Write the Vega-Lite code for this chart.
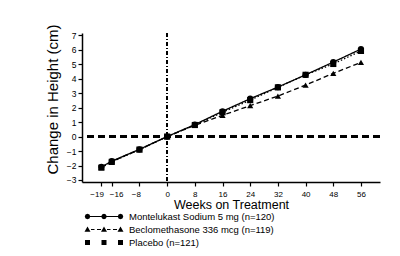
{
  "$schema": "https://vega.github.io/schema/vega-lite/v6.json",
  "width": 298,
  "height": 149,
  "autosize": "none",
  "padding": {"left": 82, "top": 33, "right": 20, "bottom": 74},
  "background": "white",
  "config": {
    "view": {"stroke": null},
    "font": "Liberation Sans",
    "axis": {
      "grid": false,
      "domainColor": "black",
      "domainWidth": 1.5,
      "tickColor": "black",
      "tickWidth": 1.2,
      "tickSize": 4,
      "labelColor": "black",
      "labelFont": "Liberation Sans",
      "labelFontSize": 8.5,
      "labelOverlap": false,
      "titleColor": "black",
      "titleFont": "Liberation Sans",
      "titleFontWeight": "normal"
    }
  },
  "data": {
    "values": [
      {"week": -19, "series": "Montelukast Sodium 5 mg (n=120)", "change": -2.1},
      {"week": -16, "series": "Montelukast Sodium 5 mg (n=120)", "change": -1.7},
      {"week": -8, "series": "Montelukast Sodium 5 mg (n=120)", "change": -0.88},
      {"week": 0, "series": "Montelukast Sodium 5 mg (n=120)", "change": 0},
      {"week": 8, "series": "Montelukast Sodium 5 mg (n=120)", "change": 0.83},
      {"week": 16, "series": "Montelukast Sodium 5 mg (n=120)", "change": 1.75},
      {"week": 24, "series": "Montelukast Sodium 5 mg (n=120)", "change": 2.62},
      {"week": 32, "series": "Montelukast Sodium 5 mg (n=120)", "change": 3.42},
      {"week": 40, "series": "Montelukast Sodium 5 mg (n=120)", "change": 4.27},
      {"week": 48, "series": "Montelukast Sodium 5 mg (n=120)", "change": 5.15},
      {"week": 56, "series": "Montelukast Sodium 5 mg (n=120)", "change": 6.05},
      {"week": -19, "series": "Beclomethasone 336 mcg (n=119)", "change": -2.12},
      {"week": -16, "series": "Beclomethasone 336 mcg (n=119)", "change": -1.72},
      {"week": -8, "series": "Beclomethasone 336 mcg (n=119)", "change": -0.9},
      {"week": 0, "series": "Beclomethasone 336 mcg (n=119)", "change": 0},
      {"week": 8, "series": "Beclomethasone 336 mcg (n=119)", "change": 0.78},
      {"week": 16, "series": "Beclomethasone 336 mcg (n=119)", "change": 1.47},
      {"week": 24, "series": "Beclomethasone 336 mcg (n=119)", "change": 2.14},
      {"week": 32, "series": "Beclomethasone 336 mcg (n=119)", "change": 2.8},
      {"week": 40, "series": "Beclomethasone 336 mcg (n=119)", "change": 3.56},
      {"week": 48, "series": "Beclomethasone 336 mcg (n=119)", "change": 4.37},
      {"week": 56, "series": "Beclomethasone 336 mcg (n=119)", "change": 5.13},
      {"week": -19, "series": "Placebo (n=121)", "change": -2.15},
      {"week": -16, "series": "Placebo (n=121)", "change": -1.75},
      {"week": -8, "series": "Placebo (n=121)", "change": -0.9},
      {"week": 0, "series": "Placebo (n=121)", "change": 0},
      {"week": 8, "series": "Placebo (n=121)", "change": 0.8},
      {"week": 16, "series": "Placebo (n=121)", "change": 1.68},
      {"week": 24, "series": "Placebo (n=121)", "change": 2.52},
      {"week": 32, "series": "Placebo (n=121)", "change": 3.4},
      {"week": 40, "series": "Placebo (n=121)", "change": 4.27},
      {"week": 48, "series": "Placebo (n=121)", "change": 5.02},
      {"week": 56, "series": "Placebo (n=121)", "change": 5.92}
    ]
  },
  "encoding": {
    "x": {
      "field": "week",
      "type": "quantitative",
      "scale": {"domain": [-24.6, 61.5], "nice": false, "zero": false},
      "axis": {
        "values": [-19, -16, -8, 0, 8, 16, 24, 32, 40, 48, 56],
        "title": "Weeks on Treatment",
        "titleFontSize": 12.5,
        "titlePadding": 0,
        "labelPadding": 4,
        "labelFontSize": 8,
        "labelAlign": {
          "condition": [
            {"test": "datum.value === -19 || datum.value === -8", "value": "right"},
            {"test": "datum.value === -16", "value": "left"}
          ],
          "value": "center"
        },
        "labelOffset": {
          "condition": [
            {"test": "datum.value === -19", "value": 2},
            {"test": "datum.value === -16", "value": -2.5},
            {"test": "datum.value === -8", "value": 1}
          ],
          "value": 0
        }
      }
    },
    "y": {
      "field": "change",
      "type": "quantitative",
      "scale": {"domain": [-3.14, 7.16], "nice": false, "zero": false},
      "axis": {
        "values": [-3, -2, -1, 0, 1, 2, 3, 4, 5, 6, 7],
        "title": "Change in Height (cm)",
        "titleFontSize": 15,
        "titlePadding": 6,
        "titleY": 66,
        "labelPadding": 2
      }
    }
  },
  "layer": [
    {
      "mark": {"type": "rule", "color": "black", "strokeWidth": 2, "strokeDash": [7, 4]},
      "encoding": {"y": {"datum": 0}, "x": {}}
    },
    {
      "mark": {"type": "rule", "color": "black", "strokeWidth": 1.3, "strokeDash": [4, 2, 1, 2]},
      "encoding": {"x": {"datum": 0}, "y": {}}
    },
    {
      "mark": {"type": "line", "color": "black", "strokeWidth": 1.3},
      "encoding": {
        "detail": {"field": "series"},
        "strokeDash": {
          "field": "series",
          "scale": {
            "domain": ["Montelukast Sodium 5 mg (n=120)", "Beclomethasone 336 mcg (n=119)", "Placebo (n=121)"],
            "range": [[1, 0], [5, 3], [1.5, 2]]
          },
          "legend": null
        }
      }
    },
    {
      "mark": {"type": "point", "filled": true, "color": "black", "opacity": 1},
      "encoding": {
        "shape": {
          "field": "series",
          "scale": {
            "domain": ["Montelukast Sodium 5 mg (n=120)", "Beclomethasone 336 mcg (n=119)", "Placebo (n=121)"],
            "range": ["circle", "triangle-up", "square"]
          },
          "legend": null
        },
        "size": {"value": 38}
      }
    },
    {
      "transform": [{"filter": "datum.week > 1000"}],
      "mark": {"type": "point", "filled": true, "color": "black"},
      "encoding": {
        "shape": {
          "field": "series",
          "scale": {
            "domain": ["Montelukast Sodium 5 mg (n=120)", "Beclomethasone 336 mcg (n=119)", "Placebo (n=121)"],
            "range": [
              "M-3.7,-0.08L3.7,-0.08L3.7,0.08L-3.7,0.08ZM-2.75,0L-2.91,0.39L-3.3,0.55L-3.69,0.39L-3.85,0L-3.69,-0.39L-3.3,-0.55L-2.91,-0.39ZM0.55,0L0.39,0.39L0,0.55L-0.39,0.39L-0.55,0L-0.39,-0.39L0,-0.55L0.39,-0.39ZM3.85,0L3.69,0.39L3.3,0.55L2.91,0.39L2.75,0L2.91,-0.39L3.3,-0.55L3.69,-0.39Z",
              "M-2.6,-0.08L-1.9,-0.08L-1.9,0.08L-2.6,0.08ZM-1.4,-0.08L-0.6,-0.08L-0.6,0.08L-1.4,0.08ZM0.6,-0.08L1.3,-0.08L1.3,0.08L0.6,0.08ZM1.8,-0.08L2.6,-0.08L2.6,0.08L1.8,0.08ZM-3.9,0.45L-3.3,-0.6L-2.7,0.45ZM-0.6,0.45L0,-0.6L0.6,0.45ZM2.7,0.45L3.3,-0.6L3.9,0.45Z",
              "M-3.8,-0.5L-2.8,-0.5L-2.8,0.5L-3.8,0.5ZM-0.5,-0.5L0.5,-0.5L0.5,0.5L-0.5,0.5ZM2.8,-0.5L3.8,-0.5L3.8,0.5L2.8,0.5Z"
            ]
          },
          "legend": {
            "title": null,
            "orient": "none",
            "legendX": 16.5,
            "legendY": 178,
            "padding": 0,
            "symbolSize": 100,
            "symbolFillColor": "black",
            "symbolStrokeColor": "black",
            "symbolStrokeWidth": 0.6,
            "symbolOpacity": 1,
            "labelOffset": 19.5,
            "labelFont": "Liberation Sans",
            "labelFontSize": 9.5,
            "labelColor": "black",
            "labelLimit": 300,
            "rowPadding": 3,
            "encode": {
              "symbols": {
                "update": {
                  "fill": {"value": "black"},
                  "stroke": {"value": "black"},
                  "strokeWidth": {"value": 0.6},
                  "opacity": {"value": 1}
                }
              },
              "labels": {
                "update": {
                  "fontSize": [
                    {"test": "datum.value === 'Montelukast Sodium 5 mg (n=120)'", "value": 10.5},
                    {"value": 9.5}
                  ]
                }
              }
            }
          }
        }
      }
    }
  ],
  "resolve": {"scale": {"shape": "independent"}, "legend": {"shape": "independent"}}
}
